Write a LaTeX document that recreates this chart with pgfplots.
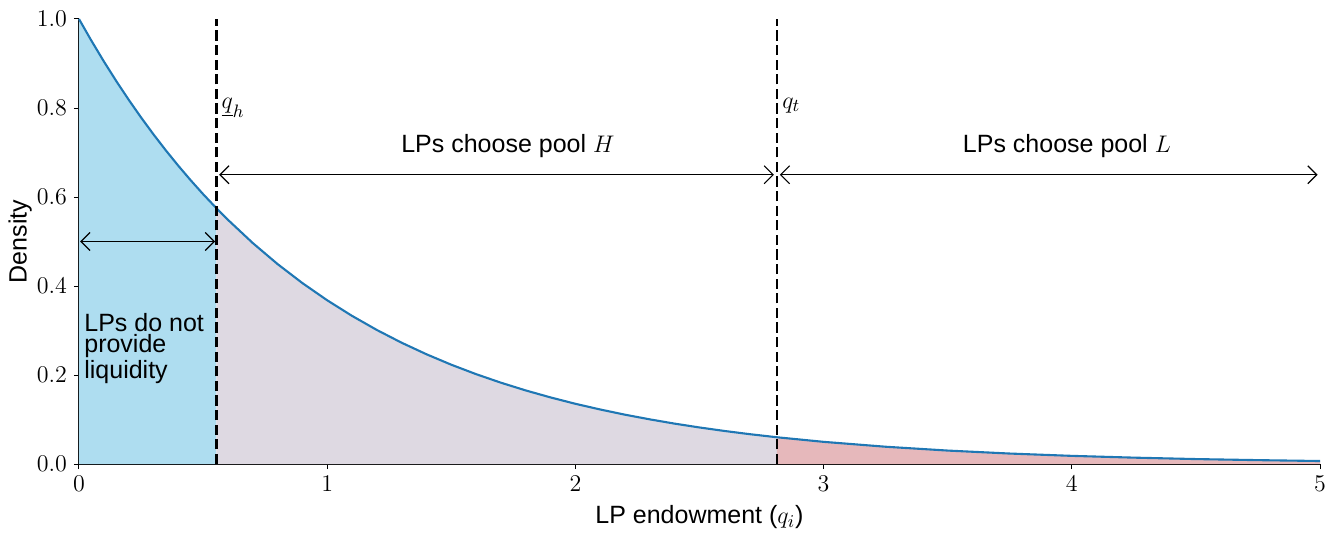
\documentclass[border=0pt]{standalone}
\usepackage{pgfplots}
\pgfplotsset{compat=1.18}
\usepackage{fontspec}
\setmainfont{Liberation Sans}
\usetikzlibrary{arrows.meta}
\definecolor{cblue}{HTML}{1F77B4}
\definecolor{fillA}{HTML}{AEDDF0}
\definecolor{fillB}{HTML}{DED9E2}
\definecolor{fillC}{HTML}{E6B8BB}
\newcommand{\fs}{\fontsize{12.5}{12.5}\selectfont}
\newcommand{\fst}{\fontsize{12.5}{10.75}\selectfont}
\begin{document}
\begin{tikzpicture}
\useasboundingbox (-39.5pt,-36pt) rectangle (628.5pt,232pt);
\begin{axis}[
  at={(0,0)}, anchor=south west,
  scale only axis, width=620.5pt, height=222.5pt,
  xmin=0, xmax=5, ymin=0, ymax=1,
  axis x line*=bottom, axis y line*=left,
  axis line style={-, line width=0.5pt},
  tick align=outside, major tick length=2.5pt,
  tick style={black, line width=0.5pt},
  xtick={0,1,2,3,4,5}, ytick={0,0.2,0.4,0.6,0.8,1},
  yticklabel style={/pgf/number format/fixed,/pgf/number format/fixed zerofill,/pgf/number format/precision=1},
  ticklabel style={font=\fs},
  xlabel={LP endowment ($q_i$)},
  ylabel={Density},
  xlabel style={font=\fs, at={(axis description cs:0.5,-0.119)}, anchor=center},
  ylabel style={font=\fs, at={(axis description cs:-0.0475,0.5)}, anchor=center},
  clip=false,
]
% filled regions
\addplot[fill=fillA, draw=none] coordinates {
(0,1) (0.05,0.9512) (0.1,0.9048) (0.15,0.8607) (0.2,0.8187) (0.25,0.7788) (0.3,0.7408)
(0.35,0.7047) (0.4,0.6703) (0.45,0.6376) (0.5,0.6065) (0.553,0.5752)} \closedcycle;
\addplot[fill=fillB, draw=none] coordinates {
(0.553,0.5752) (0.6,0.5488) (0.7,0.4966) (0.8,0.4493) (0.9,0.4066) (1.0,0.3679)
(1.1,0.3329) (1.2,0.3012) (1.3,0.2725) (1.4,0.2466) (1.5,0.2231) (1.6,0.2019)
(1.7,0.1827) (1.8,0.1653) (1.9,0.1496) (2.0,0.1353) (2.1,0.1225) (2.2,0.1108)
(2.3,0.1003) (2.4,0.0907) (2.5,0.0821) (2.6,0.0743) (2.7,0.0672) (2.812,0.0601)} \closedcycle;
\addplot[fill=fillC, draw=none] coordinates {
(2.812,0.0601) (3.0,0.0498) (3.25,0.0388) (3.5,0.0302) (3.75,0.0235) (4.0,0.0183)
(4.25,0.0143) (4.5,0.0111) (4.75,0.0087) (5.0,0.0067)} \closedcycle;
% density curve
\addplot[cblue, line width=1.05pt] coordinates {
(0,1) (0.05,0.9512) (0.1,0.9048) (0.15,0.8607) (0.2,0.8187) (0.25,0.7788) (0.3,0.7408)
(0.35,0.7047) (0.4,0.6703) (0.45,0.6376) (0.5,0.6065) (0.553,0.5752)
(0.6,0.5488) (0.7,0.4966) (0.8,0.4493) (0.9,0.4066) (1.0,0.3679)
(1.1,0.3329) (1.2,0.3012) (1.3,0.2725) (1.4,0.2466) (1.5,0.2231) (1.6,0.2019)
(1.7,0.1827) (1.8,0.1653) (1.9,0.1496) (2.0,0.1353) (2.1,0.1225) (2.2,0.1108)
(2.3,0.1003) (2.4,0.0907) (2.5,0.0821) (2.6,0.0743) (2.7,0.0672) (2.812,0.0601)
(3.0,0.0498) (3.25,0.0388) (3.5,0.0302) (3.75,0.0235) (4.0,0.0183)
(4.25,0.0143) (4.5,0.0111) (4.75,0.0087) (5.0,0.0067)};
% thresholds
\addplot[black, line width=1.45pt, dash pattern=on 5.1pt off 2.2pt] coordinates {(0.553,0) (0.553,1)};
\addplot[black, line width=1.45pt, dash pattern=on 5.1pt off 2.2pt] coordinates {(2.812,0) (2.812,1)};
% arrows
\addplot[black, line width=0.55pt, {Straight Barb[length=4.5pt,width=9pt]}-{Straight Barb[length=4.5pt,width=9pt]}] coordinates {(0.565,0.65) (2.80,0.65)};
\addplot[black, line width=0.55pt, {Straight Barb[length=4.5pt,width=9pt]}-{Straight Barb[length=4.5pt,width=9pt]}] coordinates {(2.824,0.65) (4.99,0.65)};
\addplot[black, line width=0.55pt, {Straight Barb[length=4.5pt,width=9pt]}-{Straight Barb[length=4.5pt,width=9pt]}] coordinates {(0.005,0.5) (0.548,0.5)};
% labels
\node[font=\fs, anchor=base west, inner sep=0pt] at (axis cs:0.573,0.8) {$\underline{q}_h$};
\node[font=\fs, anchor=base west, inner sep=0pt] at (axis cs:2.832,0.8) {$q_t$};
\node[font=\fs, anchor=base] at (axis cs:1.728,0.70) {LPs choose pool $H$};
\node[font=\fs, anchor=base] at (axis cs:3.98,0.70) {LPs choose pool $L$};
\node[font=\fst, anchor=north west, inner sep=0pt, align=left] at (axis cs:0.02,0.34) {LPs do not\\provide\\liquidity};
\end{axis}
\end{tikzpicture}
\end{document}
